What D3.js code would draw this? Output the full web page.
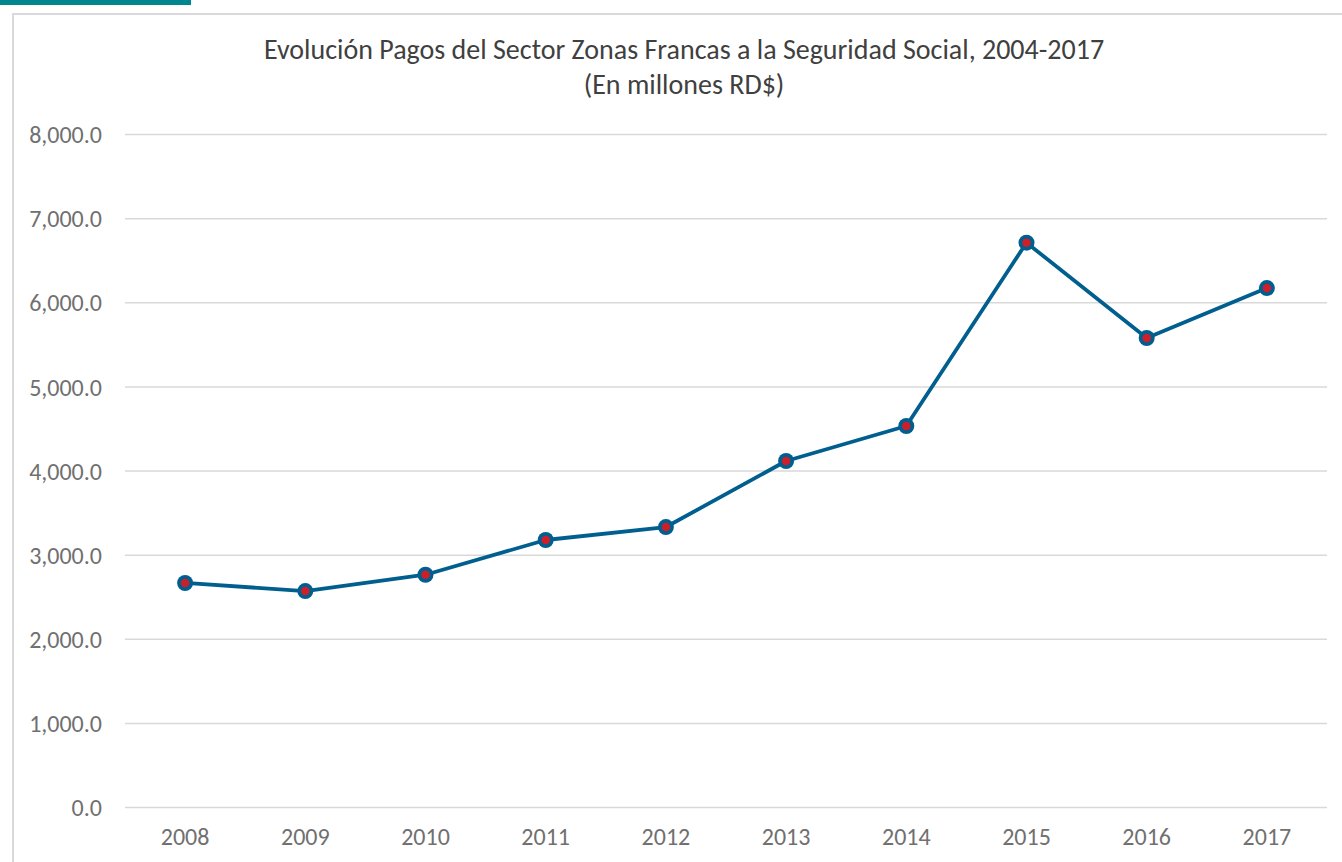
<!DOCTYPE html>
<html>
<head>
<meta charset="utf-8">
<script src="https://cdn.jsdelivr.net/npm/d3@7"></script>
<style>
  body { margin: 0; background: #fff; }
  svg { display: block; font-family: Carlito, "Open Sans", "Noto Sans", sans-serif; }
</style>
</head>
<body>
<svg id="mainsvg" width="1342" height="862"></svg>
<script>
const years = ['2008', '2009', '2010', '2011', '2012', '2013', '2014', '2015', '2016', '2017'];
const pagos = [2663, 2567, 2761, 3174, 3328, 4113, 4529, 6708, 5575, 6169];
const yTicks = [0, 1000, 2000, 3000, 4000, 5000, 6000, 7000, 8000];
const titleLines = ['Evolución Pagos del Sector Zonas Francas a la Seguridad Social, 2004-2017', '(En millones RD$)'];

const svg = d3.select('#mainsvg');
const margin = { top: 134, right: 15, bottom: 55, left: 125 };
const width = +svg.attr('width');
const height = +svg.attr('height');
const innerWidth = width - margin.left - margin.right;
const innerHeight = height - margin.top - margin.bottom;
const fontFam = 'Carlito, "Open Sans", "Noto Sans", sans-serif';

// teal tab + chart frame
svg.append('rect').attr('x', 0).attr('y', 0).attr('width', 191).attr('height', 5).attr('fill', '#00868f');
svg.append('path').attr('d', `M13,${height} V14 H${width}`)
    .attr('fill', 'none').attr('stroke', '#d9d9d9').attr('stroke-width', 2);

svg.append('text')
    .attr('x', 684).attr('y', 59)
    .attr('text-anchor', 'middle')
    .attr('fill', '#404040')
    .attr('font-size', 28)
    .selectAll('tspan').data(titleLines).join('tspan')
    .attr('x', 684).attr('dy', (d, i) => i === 0 ? 0 : 35)
    .text(d => d);

const g = svg.append('g').attr('transform', `translate(${margin.left}, ${margin.top})`);

const xScale = d3.scaleBand().domain(years).range([0, innerWidth]);
const yScale = d3.scaleLinear().domain([0, 8000]).range([innerHeight, 0]);

const yAxis = d3.axisLeft(yScale).tickValues(yTicks)
    .tickFormat(d3.format(',.1f')).tickSize(-innerWidth).tickPadding(23);
const yAxisGroup = g.append('g').call(yAxis).attr('font-family', fontFam);
yAxisGroup.select('.domain').remove();
yAxisGroup.selectAll('.tick line').attr('stroke', '#d9d9d9').attr('stroke-width', 1.5);
yAxisGroup.selectAll('.tick text').attr('font-size', 24).attr('fill', '#707070').attr('dy', '0.36em');

const xAxis = d3.axisBottom(xScale).tickSize(0).tickPadding(21);
const xAxisGroup = g.append('g').call(xAxis)
    .attr('transform', `translate(0, ${innerHeight})`).attr('font-family', fontFam);
xAxisGroup.select('.domain').remove();
xAxisGroup.selectAll('.tick text').attr('font-size', 24).attr('fill', '#707070');

const cx = (d, i) => xScale(years[i]) + xScale.bandwidth() / 2;
const line = d3.line().x(cx).y(d => yScale(d));

g.append('path').datum(pagos)
    .attr('fill', 'none')
    .attr('stroke', '#005f8f')
    .attr('stroke-width', 3.8)
    .attr('stroke-linejoin', 'round')
    .attr('d', line);

g.selectAll('.outer').data(pagos).join('circle')
    .attr('class', 'outer')
    .attr('cx', cx).attr('cy', d => yScale(d))
    .attr('r', 8).attr('fill', '#005f8f');
g.selectAll('.inner').data(pagos).join('circle')
    .attr('class', 'inner')
    .attr('cx', cx).attr('cy', d => yScale(d))
    .attr('r', 4.3).attr('fill', '#cc1f2a');
</script>
</body>
</html>
